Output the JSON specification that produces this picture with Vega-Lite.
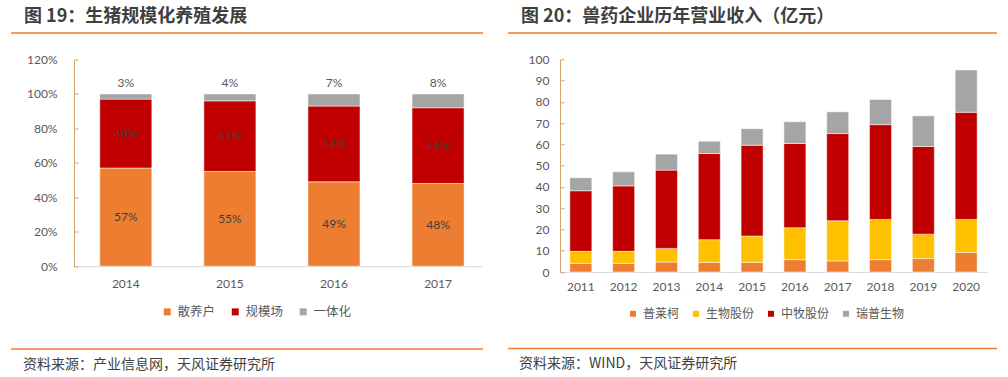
{
  "$schema": "https://vega.github.io/schema/vega-lite/v6.json",
  "padding": {"left": 8, "top": 8, "right": 0, "bottom": 0},
  "background": "white",
  "config": {
    "view": {"stroke": null},
    "font": "Noto Sans CJK SC",
    "axis": {"labelFont": "Lato", "labelFontSize": 12, "labelColor": "#595959", "grid": false, "labelOverlap": false}
  },
  "datasets": {
    "pig": [
      {"year": "2014", "cat": "散养户", "idx": 0, "v": 57},
      {"year": "2014", "cat": "规模场", "idx": 1, "v": 40},
      {"year": "2014", "cat": "一体化", "idx": 2, "v": 3},
      {"year": "2015", "cat": "散养户", "idx": 0, "v": 55},
      {"year": "2015", "cat": "规模场", "idx": 1, "v": 41},
      {"year": "2015", "cat": "一体化", "idx": 2, "v": 4},
      {"year": "2016", "cat": "散养户", "idx": 0, "v": 49},
      {"year": "2016", "cat": "规模场", "idx": 1, "v": 44},
      {"year": "2016", "cat": "一体化", "idx": 2, "v": 7},
      {"year": "2017", "cat": "散养户", "idx": 0, "v": 48},
      {"year": "2017", "cat": "规模场", "idx": 1, "v": 44},
      {"year": "2017", "cat": "一体化", "idx": 2, "v": 8}
    ],
    "rev": [
      {"year": "2011", "co": "普莱柯", "idx": 0, "v": 4.1},
      {"year": "2011", "co": "生物股份", "idx": 1, "v": 5.6},
      {"year": "2011", "co": "中牧股份", "idx": 2, "v": 28.5},
      {"year": "2011", "co": "瑞普生物", "idx": 3, "v": 6.1},
      {"year": "2012", "co": "普莱柯", "idx": 0, "v": 4.1},
      {"year": "2012", "co": "生物股份", "idx": 1, "v": 5.6},
      {"year": "2012", "co": "中牧股份", "idx": 2, "v": 30.8},
      {"year": "2012", "co": "瑞普生物", "idx": 3, "v": 6.6},
      {"year": "2013", "co": "普莱柯", "idx": 0, "v": 4.7},
      {"year": "2013", "co": "生物股份", "idx": 1, "v": 6.4},
      {"year": "2013", "co": "中牧股份", "idx": 2, "v": 36.8},
      {"year": "2013", "co": "瑞普生物", "idx": 3, "v": 7.5},
      {"year": "2014", "co": "普莱柯", "idx": 0, "v": 4.5},
      {"year": "2014", "co": "生物股份", "idx": 1, "v": 10.7},
      {"year": "2014", "co": "中牧股份", "idx": 2, "v": 40.5},
      {"year": "2014", "co": "瑞普生物", "idx": 3, "v": 5.8},
      {"year": "2015", "co": "普莱柯", "idx": 0, "v": 4.5},
      {"year": "2015", "co": "生物股份", "idx": 1, "v": 12.4},
      {"year": "2015", "co": "中牧股份", "idx": 2, "v": 42.7},
      {"year": "2015", "co": "瑞普生物", "idx": 3, "v": 7.8},
      {"year": "2016", "co": "普莱柯", "idx": 0, "v": 5.8},
      {"year": "2016", "co": "生物股份", "idx": 1, "v": 15.0},
      {"year": "2016", "co": "中牧股份", "idx": 2, "v": 39.6},
      {"year": "2016", "co": "瑞普生物", "idx": 3, "v": 10.2},
      {"year": "2017", "co": "普莱柯", "idx": 0, "v": 5.2},
      {"year": "2017", "co": "生物股份", "idx": 1, "v": 18.9},
      {"year": "2017", "co": "中牧股份", "idx": 2, "v": 41.0},
      {"year": "2017", "co": "瑞普生物", "idx": 3, "v": 10.2},
      {"year": "2018", "co": "普莱柯", "idx": 0, "v": 5.8},
      {"year": "2018", "co": "生物股份", "idx": 1, "v": 18.9},
      {"year": "2018", "co": "中牧股份", "idx": 2, "v": 44.6},
      {"year": "2018", "co": "瑞普生物", "idx": 3, "v": 11.8},
      {"year": "2019", "co": "普莱柯", "idx": 0, "v": 6.3},
      {"year": "2019", "co": "生物股份", "idx": 1, "v": 11.5},
      {"year": "2019", "co": "中牧股份", "idx": 2, "v": 41.2},
      {"year": "2019", "co": "瑞普生物", "idx": 3, "v": 14.4},
      {"year": "2020", "co": "普莱柯", "idx": 0, "v": 9.2},
      {"year": "2020", "co": "生物股份", "idx": 1, "v": 15.5},
      {"year": "2020", "co": "中牧股份", "idx": 2, "v": 50.4},
      {"year": "2020", "co": "瑞普生物", "idx": 3, "v": 19.9}
    ],
    "line": [{"v": 0}],
    "blank": [{}]
  },
  "resolve": {"scale": {"color": "independent"}, "legend": {"color": "independent"}},
  "spacing": 21,
  "hconcat": [
    {
      "spacing": 19.5,
      "resolve": {"scale": {"color": "independent"}, "legend": {"color": "independent"}},
      "vconcat": [
        {
          "width": 472,
          "height": 1,
          "title": {"text": "图 19：生猪规模化养殖发展", "anchor": "start", "frame": "group", "dx": 13, "offset": -8, "baseline": "alphabetic", "fontSize": 18, "fontWeight": "bold", "color": "#3F3F3F", "font": "Noto Sans CJK SC"},
          "data": {"name": "line"},
          "mark": {"type": "rule", "color": "#ED7D31", "strokeWidth": 1.5},
          "encoding": {"y": {"field": "v", "type": "quantitative", "axis": null, "scale": {"domain": [0, 1]}}}
        },
        {
          "bounds": "flush",
          "spacing": 62,
          "resolve": {"scale": {"color": "independent"}, "legend": {"color": "independent"}},
          "hconcat": [
            {"width": 1, "height": 1, "data": {"name": "blank"}, "mark": {"type": "point", "opacity": 0}, "encoding": {}},
            {
              "width": 408,
              "height": 206.7,
              "data": {"name": "pig"},
              "transform": [
                {"stack": "v", "groupby": ["year"], "sort": [{"field": "idx"}], "as": ["v0", "v1"]},
                {"calculate": "(datum.v0 + datum.v1) / 2", "as": "mid"},
                {"calculate": "datum.v + '%'", "as": "label"}
              ],
              "encoding": {
                "x": {"field": "year", "type": "nominal", "title": null,
                  "scale": {"paddingInner": 0.5, "paddingOuter": 0.21, "align": 0.59},
                  "axis": {"labelAngle": 0, "ticks": false, "domainColor": "#D9D9D9", "labelPadding": 12}}
              },
              "layer": [
                {
                  "mark": {"type": "bar", "stroke": "white", "strokeWidth": 0.5},
                  "encoding": {
                    "y": {"field": "v0", "type": "quantitative", "title": null,
                      "scale": {"domain": [0, 120]},
                      "axis": {"values": [0, 20, 40, 60, 80, 100, 120], "labelExpr": "datum.value + '%'", "labelOverlap": false, "domainColor": "#D4A56E", "tickColor": "#D4A56E", "tickSize": -4, "labelPadding": 21}},
                    "y2": {"field": "v1"},
                    "color": {"field": "cat", "type": "nominal",
                      "scale": {"domain": ["散养户", "规模场", "一体化"], "range": ["#ED7D31", "#C00000", "#A5A5A5"]},
                      "legend": {"orient": "none", "legendX": 87, "legendY": 246, "direction": "horizontal", "title": null, "symbolType": "square", "symbolSize": 49, "symbolStrokeWidth": 0, "labelFontSize": 12.5, "labelColor": "#595959", "labelOffset": 4, "columnPadding": 13, "labelFont": "Noto Sans CJK SC", "padding": 0}}
                  }
                },
                {
                  "transform": [{"filter": "datum.idx < 2"}],
                  "mark": {"type": "text", "font": "Lato", "fontSize": 12, "color": "#404040"},
                  "encoding": {
                    "y": {"field": "mid", "type": "quantitative", "title": null,
                      "axis": {"values": [0, 20, 40, 60, 80, 100, 120], "labelExpr": "datum.value + '%'", "labelOverlap": false, "domainColor": "#D4A56E", "tickColor": "#D4A56E", "tickSize": -4, "labelPadding": 21}},
                    "text": {"field": "label"}
                  }
                },
                {
                  "transform": [{"filter": "datum.idx == 2"}],
                  "mark": {"type": "text", "font": "Lato", "fontSize": 12, "color": "#595959", "baseline": "alphabetic", "dy": -7},
                  "encoding": {
                    "y": {"field": "v1", "type": "quantitative", "title": null,
                      "axis": {"values": [0, 20, 40, 60, 80, 100, 120], "labelExpr": "datum.value + '%'", "labelOverlap": false, "domainColor": "#D4A56E", "tickColor": "#D4A56E", "tickSize": -4, "labelPadding": 21}},
                    "text": {"field": "label"}
                  }
                }
              ]
            }
          ]
        },
        {
          "width": 472,
          "height": 11,
          "title": {"text": "资料来源：产业信息网，天风证券研究所", "orient": "bottom", "anchor": "start", "frame": "group", "dx": 12, "offset": 8, "baseline": "top", "fontSize": 14, "fontWeight": "normal", "color": "#404040", "font": "Noto Sans CJK SC"},
          "data": {"name": "line"},
          "mark": {"type": "rule", "color": "#ED7D31", "strokeWidth": 1.5},
          "encoding": {"y": {"field": "v", "type": "quantitative", "axis": null, "scale": {"domain": [0, 1]}}}
        }
      ]
    },
    {
      "spacing": 19.3,
      "resolve": {"scale": {"color": "independent"}, "legend": {"color": "independent"}},
      "vconcat": [
        {
          "width": 489,
          "height": 1,
          "title": {"text": "图 20：兽药企业历年营业收入（亿元）", "anchor": "start", "frame": "group", "dx": 13, "offset": -8, "baseline": "alphabetic", "fontSize": 18, "fontWeight": "bold", "color": "#3F3F3F", "font": "Noto Sans CJK SC"},
          "data": {"name": "line"},
          "mark": {"type": "rule", "color": "#ED7D31", "strokeWidth": 1.5},
          "encoding": {"y": {"field": "v", "type": "quantitative", "axis": null, "scale": {"domain": [0, 1]}}}
        },
        {
          "bounds": "flush",
          "spacing": 51,
          "resolve": {"scale": {"color": "independent"}, "legend": {"color": "independent"}},
          "hconcat": [
            {"width": 1, "height": 1, "data": {"name": "blank"}, "mark": {"type": "point", "opacity": 0}, "encoding": {}},
            {
              "width": 427,
              "height": 212.7,
              "data": {"name": "rev"},
              "mark": {"type": "bar", "stroke": "white", "strokeWidth": 0.5},
              "encoding": {
                "x": {"field": "year", "type": "nominal", "title": null,
                  "scale": {"paddingInner": 0.486, "paddingOuter": 0.23},
                  "axis": {"labelAngle": 0, "ticks": false, "domainColor": "#D9D9D9", "labelPadding": 9}},
                "y": {"field": "v", "type": "quantitative", "stack": "zero", "title": null,
                  "scale": {"domain": [0, 100]},
                  "axis": {"values": [0, 10, 20, 30, 40, 50, 60, 70, 80, 90, 100], "domainColor": "#D4A56E", "tickColor": "#D4A56E", "tickSize": -4, "labelPadding": 15}},
                "order": {"field": "idx"},
                "color": {"field": "co", "type": "nominal",
                  "scale": {"domain": ["普莱柯", "生物股份", "中牧股份", "瑞普生物"], "range": ["#ED7D31", "#FFC000", "#C00000", "#A5A5A5"]},
                  "legend": {"orient": "none", "legendX": 67, "legendY": 248.5, "direction": "horizontal", "title": null, "symbolType": "square", "symbolSize": 36, "symbolStrokeWidth": 0, "labelFontSize": 12, "labelColor": "#595959", "labelOffset": 4, "columnPadding": 10, "labelFont": "Noto Sans CJK SC", "padding": 0}}
              }
            }
          ]
        },
        {
          "width": 489,
          "height": 9,
          "title": {"text": "资料来源：WIND，天风证券研究所", "orient": "bottom", "anchor": "start", "frame": "group", "dx": 11, "offset": 8, "baseline": "top", "fontSize": 14, "fontWeight": "normal", "color": "#404040", "font": "Noto Sans CJK SC"},
          "data": {"name": "line"},
          "mark": {"type": "rule", "color": "#ED7D31", "strokeWidth": 1.5},
          "encoding": {"y": {"field": "v", "type": "quantitative", "axis": null, "scale": {"domain": [0, 1]}}}
        }
      ]
    }
  ]
}
